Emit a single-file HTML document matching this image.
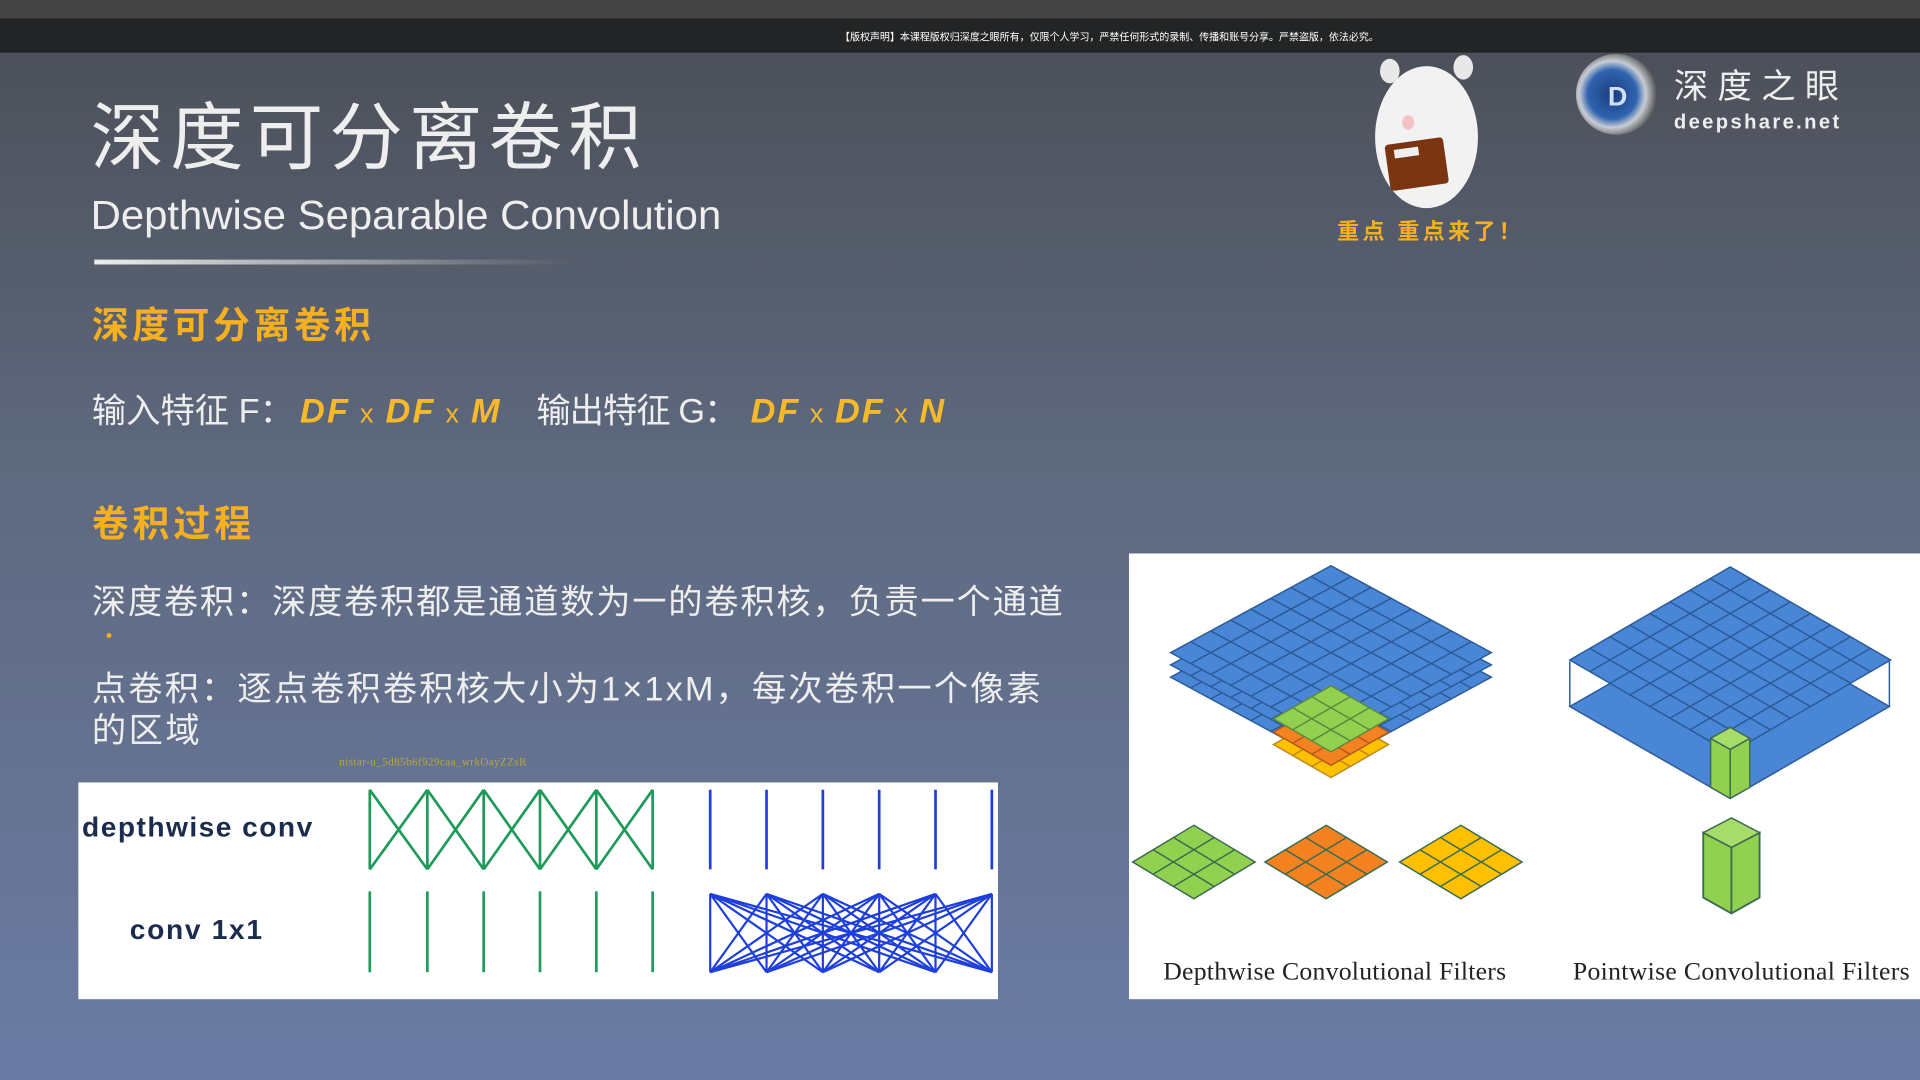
<!DOCTYPE html>
<html><head><meta charset="utf-8"><style>
html,body{margin:0;padding:0;width:1920px;height:1080px;overflow:hidden;background:#555}
svg{display:block}
.cn{font-family:"Liberation Sans","Noto Sans CJK SC",sans-serif}
</style></head><body>
<svg id="s" width="1920" height="1080" viewBox="0 0 1568 882" preserveAspectRatio="none" xmlns="http://www.w3.org/2000/svg">
<defs>
<linearGradient id="bg" x1="0" y1="0" x2="0" y2="1">
<stop offset="0" stop-color="#4a4d55"/><stop offset="0.45" stop-color="#5f6a80"/><stop offset="1" stop-color="#6b7ba4"/>
</linearGradient>
<linearGradient id="ln" x1="0" y1="0" x2="1" y2="0">
<stop offset="0" stop-color="#eee"/><stop offset="0.6" stop-color="#bbb" stop-opacity="0.6"/><stop offset="1" stop-color="#999" stop-opacity="0"/>
</linearGradient>
<radialGradient id="lg" cx="0.45" cy="0.5" r="0.55">
<stop offset="0" stop-color="#1a3c7a"/><stop offset="0.55" stop-color="#2f64b0"/><stop offset="0.75" stop-color="#c8ccd4"/><stop offset="1" stop-color="#555"/>
</radialGradient>
</defs>
<rect width="1568" height="882" fill="url(#bg)"/>
<rect width="1568" height="15" fill="#444"/>
<rect y="15" width="1568" height="28" fill="#232425"/>
<text x="906" y="33" font-size="8.5" fill="#fff" text-anchor="middle" class="cn" textLength="440" lengthAdjust="spacingAndGlyphs">【版权声明】本课程版权归深度之眼所有，仅限个人学习，严禁任何形式的录制、传播和账号分享。严禁盗版，依法必究。</text>

<text x="74" y="133" font-size="60" fill="#eee" class="cn" textLength="450">深度可分离卷积</text>
<text x="74" y="187" font-size="33" fill="#eee" class="cn" textLength="515" lengthAdjust="spacingAndGlyphs">Depthwise Separable Convolution</text>
<rect x="77" y="212" width="395" height="4" fill="url(#ln)"/>

<text x="75" y="276" font-size="30" font-weight="bold" fill="#f5b021" class="cn" textLength="228">深度可分离卷积</text>
<text x="75" y="345" font-size="28" fill="#eee" class="cn" textLength="165">输入特征 F：</text>
<text x="245" y="345" font-size="28" fill="#f5b92a" font-style="italic" font-weight="bold" class="cn" textLength="163">DF<tspan font-size="22" font-style="normal" font-weight="normal"> x </tspan>DF<tspan font-size="22" font-style="normal" font-weight="normal"> x </tspan>M</text>
<text x="438" y="345" font-size="28" fill="#eee" class="cn" textLength="165">输出特征 G：</text>
<text x="613" y="345" font-size="28" fill="#f5b92a" font-style="italic" font-weight="bold" class="cn" textLength="158">DF<tspan font-size="22" font-style="normal" font-weight="normal"> x </tspan>DF<tspan font-size="22" font-style="normal" font-weight="normal"> x </tspan>N</text>

<text x="75" y="438" font-size="30" font-weight="bold" fill="#f5b021" class="cn" textLength="130">卷积过程</text>
<text x="75" y="501" font-size="28" fill="#eee" class="cn" textLength="793">深度卷积：深度卷积都是通道数为一的卷积核，负责一个通道</text>
<circle cx="89" cy="519" r="2" fill="#f5b021"/>
<text x="75" y="572" font-size="28" fill="#eee" class="cn" textLength="775">点卷积：逐点卷积卷积核大小为1×1xM，每次卷积一个像素</text>
<text x="75" y="606" font-size="28" fill="#eee" class="cn" textLength="88">的区域</text>
<text x="277" y="625" font-size="9" fill="#b8a838" font-family="Liberation Serif,serif" textLength="153">nistar-u_5d85b6f929caa_wrkOayZZsR</text>

<!-- hamster -->
<g>
<ellipse cx="1165" cy="112" rx="42" ry="58" fill="#f2f2f2"/>
<ellipse cx="1135" cy="58" rx="8" ry="10" fill="#e8e8e8"/>
<ellipse cx="1195" cy="55" rx="8" ry="10" fill="#e8e8e8"/>
<ellipse cx="1150" cy="100" rx="5" ry="6" fill="#f4c4c4"/>
<rect x="1133" y="115" width="48" height="38" rx="3" fill="#7a3410" transform="rotate(-8 1157 134)"/>
<rect x="1140" y="120" width="20" height="7" fill="#eee" transform="rotate(-8 1157 134)"/>
</g>
<text x="1092" y="195" font-size="18" font-weight="bold" fill="#f5b021" class="cn" textLength="150">重点  重点来了！</text>

<!-- logo -->
<circle cx="1320" cy="77" r="33" fill="url(#lg)"/>
<text x="1321" y="86" font-size="22" font-weight="bold" fill="#cfe0ff" text-anchor="middle" font-family="Liberation Sans,sans-serif">D</text>
<text x="1367" y="80" font-size="28" fill="#eee" class="cn" textLength="135">深度之眼</text>
<text x="1367" y="105" font-size="16.5" fill="#eee" font-weight="bold" font-family="Liberation Sans,sans-serif" textLength="135">deepshare.net</text>

<!-- left panel -->
<rect x="64" y="639" width="751" height="177" fill="#fff"/>
<text x="67" y="683" font-size="23" font-weight="bold" fill="#1b2c4c" font-family="Liberation Sans,sans-serif" textLength="188">depthwise conv</text>
<text x="106" y="767" font-size="23" font-weight="bold" fill="#1b2c4c" font-family="Liberation Sans,sans-serif" textLength="108">conv 1x1</text>
<g id="lp" stroke-width="2.2" fill="none"></g>

<!-- right panel -->
<rect x="922" y="452" width="646" height="364" fill="#fff"/>
<g id="rp"></g>
<text x="1090" y="800" font-size="21" fill="#222" text-anchor="middle" font-family="Liberation Serif,serif" textLength="280">Depthwise Convolutional Filters</text>
<text x="1422" y="800" font-size="21" fill="#222" text-anchor="middle" font-family="Liberation Serif,serif" textLength="275">Pointwise Convolutional Filters</text>
</svg>
<script>
var NS="http://www.w3.org/2000/svg";
function el(p,t,a){var e=document.createElementNS(NS,t);for(var k in a)e.setAttribute(k,a[k]);p.appendChild(e);return e;}
var lp=document.getElementById("lp");
var gx=[302,349,395,441,487,533],bx=[580,626,672,718,764,810];
var G="#1f9a5a",B="#1e3fdc";
for(var i=0;i<6;i++){
 el(lp,"line",{x1:gx[i],y1:645,x2:gx[i],y2:710,stroke:G});
 if(i<5){el(lp,"line",{x1:gx[i],y1:645,x2:gx[i+1],y2:710,stroke:G});el(lp,"line",{x1:gx[i],y1:710,x2:gx[i+1],y2:645,stroke:G});}
 el(lp,"line",{x1:bx[i],y1:645,x2:bx[i],y2:710,stroke:B});
 el(lp,"line",{x1:gx[i],y1:728,x2:gx[i],y2:794,stroke:G});
 for(var j=0;j<6;j++)el(lp,"line",{x1:bx[i],y1:730,x2:bx[j],y2:794,stroke:B,"stroke-width":1.8});
}
var rp=document.getElementById("rp");
function lerp(a,b,t){return [a[0]+(b[0]-a[0])*t,a[1]+(b[1]-a[1])*t];}
function dia(T,L,R,Bm,fill,n,lc){
 el(rp,"polygon",{points:[T,R,Bm,L].map(function(p){return p.join(",")}).join(" "),fill:fill,stroke:lc,"stroke-width":1.2});
 for(var i=1;i<n;i++){var t=i/n;
  var a=lerp(T,R,t),b=lerp(L,Bm,t);el(rp,"line",{x1:a[0],y1:a[1],x2:b[0],y2:b[1],stroke:lc,"stroke-width":1.2});
  a=lerp(T,L,t);b=lerp(R,Bm,t);el(rp,"line",{x1:a[0],y1:a[1],x2:b[0],y2:b[1],stroke:lc,"stroke-width":1.2});}
}
function dc(cx,cy,hw,hh,fill,n,lc){dia([cx,cy-hh],[cx-hw,cy],[cx+hw,cy],[cx,cy+hh],fill,n,lc);}
var BL="#4a86d6",BG="#2b5a98";
dc(1087,553,131,71,BL,8,BG);
dc(1087,543,131,71,BL,8,BG);
dc(1087,533,131,71,BL,8,BG);
dc(1087,608,47,27,"#ffc000",3,"#b88a20");
dc(1087,598,47,27,"#f58220",3,"#b05a20");
dc(1087,587,47,27,"#92d050",3,"#5a8a40");
dc(975,704,50,30,"#92d050",3,"#3a6a50");
dc(1083,704,50,30,"#f58220",3,"#3a6a50");
dc(1193,704,50,30,"#ffc000",3,"#3a6a50");
el(rp,"polygon",{points:"1413,502 1543,577 1413,652 1282,577",fill:BL,stroke:BG,"stroke-width":1.2});
el(rp,"line",{x1:1282,y1:540,x2:1282,y2:577,stroke:BG,"stroke-width":1.2});
el(rp,"line",{x1:1543,y1:540,x2:1543,y2:577,stroke:BG,"stroke-width":1.2});
dc(1413,539,131,76,BL,8,BG);
el(rp,"polygon",{points:"1397,603 1413,612 1429,603 1429,643 1413,652 1397,643",fill:"#92d050",stroke:"#3a6a50","stroke-width":1.2});
el(rp,"line",{x1:1413,y1:612,x2:1413,y2:652,stroke:"#3a6a50","stroke-width":1.2});
dc(1413,603,16,9,"#a8dc6a",1,"#3a6a50");
el(rp,"polygon",{points:"1391,680 1414,692 1437,680 1437,733 1414,746 1391,733",fill:"#92d050",stroke:"#3a6a50","stroke-width":1.5});
el(rp,"line",{x1:1414,y1:692,x2:1414,y2:746,stroke:"#3a6a50","stroke-width":1.5});
dc(1414,680,23,12,"#a8dc6a",1,"#3a6a50");
</script>
</body></html>
